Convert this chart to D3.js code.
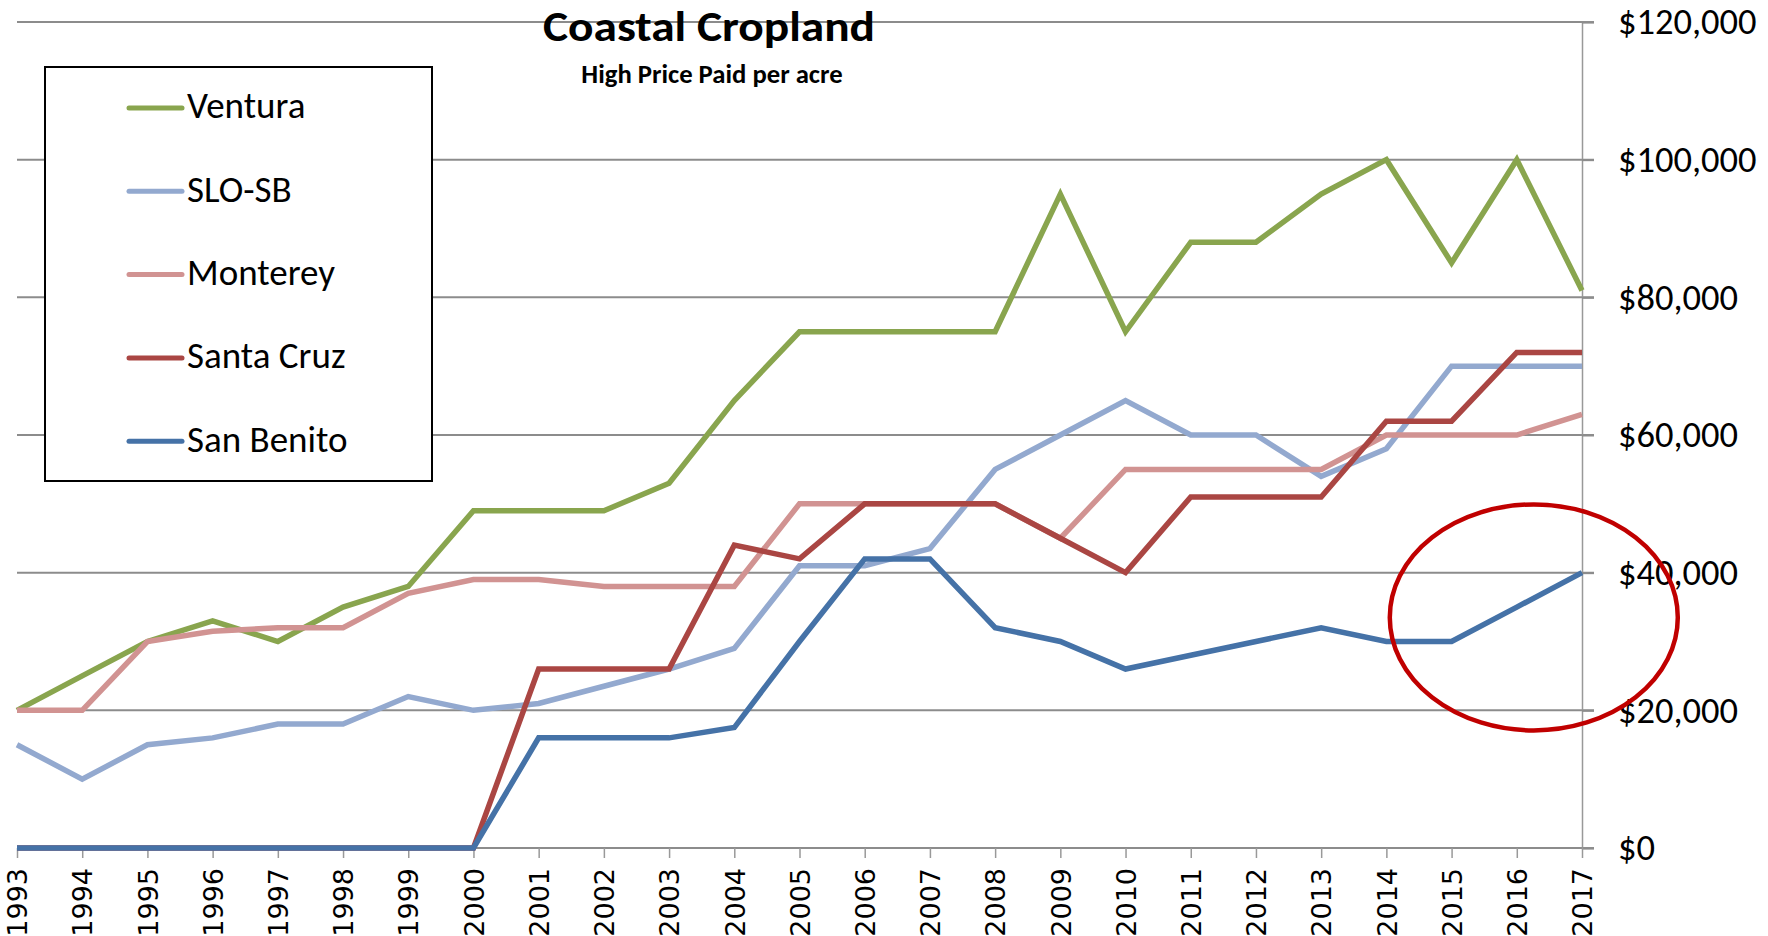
<!DOCTYPE html>
<html>
<head>
<meta charset="utf-8">
<script src="https://d3js.org/d3.v7.min.js"></script>
<style>
  body { margin: 0; background: #fff; }
</style>
</head>
<body>
<div id="line_graph"></div>
<script>
// chart data
var years = [1993,1994,1995,1996,1997,1998,1999,2000,2001,2002,2003,2004,2005,2006,2007,2008,2009,2010,2011,2012,2013,2014,2015,2016,2017];
var ventura   = [20000,25000,30000,33000,30000,35000,38000,49000,49000,49000,53000,65000,75000,75000,75000,75000,95000,75000,88000,88000,95000,100000,85000,100000,81000];
var sloSb     = [15000,10000,15000,16000,18000,18000,22000,20000,21000,23500,26000,29000,41000,41000,43500,55000,60000,65000,60000,60000,54000,58000,70000,70000,70000];
var monterey  = [20000,20000,30000,31500,32000,32000,37000,39000,39000,38000,38000,38000,50000,50000,50000,50000,45000,55000,55000,55000,55000,60000,60000,60000,63000];
var santaCruz = [0,0,0,0,0,0,0,0,26000,26000,26000,44000,42000,50000,50000,50000,45000,40000,51000,51000,51000,62000,62000,72000,72000];
var sanBenito = [0,0,0,0,0,0,0,0,16000,16000,16000,17500,30000,42000,42000,32000,30000,26000,28000,30000,32000,30000,30000,35000,40000];
var seriesNames = ["Ventura","SLO-SB","Monterey","Santa Cruz","San Benito"];
var seriesValues = [ventura, sloSb, monterey, santaCruz, sanBenito];
var colors = ["#89a54e","#93a9cf","#d19392","#aa4643","#4572a7"];
var yTicks = [0,20000,40000,60000,80000,100000,120000];

var fullWidth = 1768, fullHeight = 936;
var margin = {top: 22, right: 186, bottom: 88, left: 17},
    width = fullWidth - margin.left - margin.right,
    height = fullHeight - margin.top - margin.bottom;

var svg = d3.select("#line_graph").append("svg")
    .attr("width", fullWidth)
    .attr("height", fullHeight);

var g = svg.append("g")
    .attr("transform", "translate(" + margin.left + "," + margin.top + ")");

var x = d3.scalePoint()
    .domain(years)
    .range([0, width]);

var y = d3.scaleLinear()
    .domain([0, 120000])
    .range([height, 0]);

// gridlines
g.append("g")
    .selectAll("line")
    .data(yTicks)
    .enter().append("line")
    .attr("x1", 0)
    .attr("x2", width + 12)
    .attr("y1", function(d){ return y(d); })
    .attr("y2", function(d){ return y(d); })
    .attr("stroke", "#8c8c8c")
    .attr("stroke-width", 2);

// right axis
var yAxis = g.append("g")
    .attr("transform", "translate(" + width + ",0)")
    .call(d3.axisRight(y).tickValues(yTicks).tickSize(12).tickPadding(24)
        .tickFormat(function(d){ return "$" + d3.format(",")(d); }));
yAxis.select(".domain").attr("stroke", "#999").attr("stroke-width", 1.5);
yAxis.selectAll(".tick line").attr("stroke", "#8c8c8c").attr("stroke-width", 2);
yAxis.selectAll("text")
    .attr("font-family", "Carlito, Calibri, sans-serif")
    .attr("font-size", 36.5)
    .attr("fill", "#000");

// bottom axis
var xAxis = g.append("g")
    .attr("transform", "translate(0," + height + ")")
    .call(d3.axisBottom(x).tickSize(10).tickPadding(10));
xAxis.select(".domain").remove();
xAxis.selectAll(".tick line").attr("stroke", "#999").attr("stroke-width", 1.5);
xAxis.selectAll("text")
    .attr("font-family", "'DejaVu Sans', sans-serif")
    .attr("font-size", 27)
    .attr("fill", "#000")
    .attr("text-anchor", "end")
    .attr("transform", "rotate(-90)")
    .attr("x", -20)
    .attr("y", 0)
    .attr("dy", "0.36em");

// lines
var line = d3.line()
    .x(function(d,i){ return x(years[i]); })
    .y(function(d){ return y(d); });

g.selectAll(".series")
    .data(seriesValues)
    .enter().append("path")
    .attr("class", "series")
    .attr("fill", "none")
    .attr("stroke", function(d,i){ return colors[i]; })
    .attr("stroke-width", 5.5)
    .attr("stroke-linejoin", "miter")
    .attr("d", line);

// red highlight ellipse around San Benito 2014-2017
g.append("ellipse")
    .attr("cx", x(2016) + 17)
    .attr("cy", y(33500))
    .attr("rx", 144)
    .attr("ry", 113)
    .attr("fill", "none")
    .attr("stroke", "#c00000")
    .attr("stroke-width", 4.5);

// legend
var legend = svg.append("g").attr("transform", "translate(45,67)");
legend.append("rect")
    .attr("width", 387)
    .attr("height", 414)
    .attr("fill", "#fff")
    .attr("stroke", "#000")
    .attr("stroke-width", 2);
var items = legend.selectAll(".item")
    .data(seriesNames)
    .enter().append("g")
    .attr("transform", function(d,i){ return "translate(0," + (41 + i * 83.3) + ")"; });
items.append("line")
    .attr("x1", 84).attr("x2", 137)
    .attr("stroke", function(d,i){ return colors[i]; })
    .attr("stroke-width", 5)
    .attr("stroke-linecap", "round");
items.append("text")
    .attr("x", 142)
    .attr("dy", "0.28em")
    .attr("font-family", "Carlito, Calibri, sans-serif")
    .attr("font-size", 37)
    .text(function(d){ return d; });

// titles
svg.append("text")
    .attr("x", 709).attr("y", 40.5)
    .attr("text-anchor", "middle")
    .attr("font-family", "Carlito, Calibri, sans-serif")
    .attr("font-weight", "bold")
    .attr("font-size", 42)
    .attr("textLength", 332)
    .attr("lengthAdjust", "spacingAndGlyphs")
    .text("Coastal Cropland");
svg.append("text")
    .attr("x", 712).attr("y", 83)
    .attr("text-anchor", "middle")
    .attr("font-family", "Carlito, Calibri, sans-serif")
    .attr("font-weight", "bold")
    .attr("font-size", 26.7)
    .text("High Price Paid per acre");
</script>
</body>
</html>
